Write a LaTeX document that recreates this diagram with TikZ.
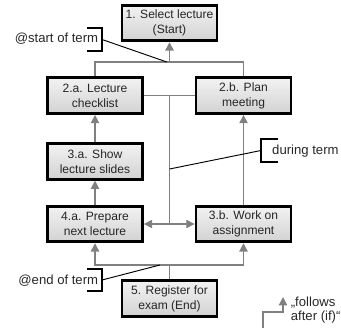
\documentclass[tikz,border=0pt]{standalone}
\usepackage{fontspec}
\setmainfont{Liberation Sans}
\usetikzlibrary{arrows.meta,calc}

\begin{document}
\begin{tikzpicture}[
    task/.style={draw=black, line width=2.4pt, top color=gray!10, bottom color=gray!35, align=center, minimum width=2.85cm, minimum height=1.07cm, inner sep=1pt, text=black!85, font=\fontsize{10.3}{13}\selectfont},
    flow/.style={gray, line width=1.1pt, >={Triangle[length=0.25cm,width=0.25cm]}},
    brk/.style={black, line width=2.2pt},
    pointer/.style={black, line width=0.8pt},
    note/.style={inner sep=0pt, align=left, text=black!85, font=\fontsize{11.2}{12.5}\selectfont},
]
\useasboundingbox (0,0) rectangle (10.23,9.84);

% Task boxes
\node[task] (select) at (5.085,9.15) {1. Select lecture\\(Start)};
\node[task] (check) at (2.85,6.97) {2.a. Lecture\\checklist};
\node[task] (plan) at (7.305,6.97) {2.b. Plan\\meeting};
\node[task] (slides) at (2.85,5.0) {3.a. Show\\lecture slides};
\node[task] (prepare) at (2.85,3.12) {4.a. Prepare\\next lecture};
\node[task] (work) at (7.305,3.12) {3.b. Work on\\assignment};
\node[task] (register) at (5.085,0.885) {5. Register for\\exam (End)};

% Junctions
\coordinate (topjoin) at (5.085,7.98);
\coordinate (midjoin) at (5.085,6.97);
\coordinate (lowjoin) at (5.085,3.12);
\coordinate (botjoin) at (5.085,1.89);

% Flow
\draw[flow] (check.north) |- (topjoin) -| (plan.north);
\draw[flow,->] (topjoin) -- (select.south);
\draw[flow] (check.east) -- (plan.west);
\draw[flow] (midjoin) -- (lowjoin);
\draw[flow,<->] (prepare.east) -- (work.west);
\draw[flow,->] (slides) -- (check);
\draw[flow,->] (prepare) -- (slides);
\draw[flow,->] (work) -- (plan);
\draw[flow] (register.north) -- (botjoin);
\draw[flow,->] (botjoin) -| (prepare.south);
\draw[flow,->] (botjoin) -| (work.south);

% @start of term
\node[note, anchor=east] (startterm) at (2.95,8.67) {@start of term};
\coordinate (startbr) at (3.06,8.655);
\draw[brk] ($(startbr)+(-0.45,0.345)$) -| ($(startbr)+(0,-0.345)$) -- ++(-0.45,0);
\draw[pointer] (startbr) -- ($(topjoin)+(-0.08,0)$);

% during term
\node[note, anchor=west] (duringterm) at (8.16,5.31) {during term};
\coordinate (duringbr) at (7.83,5.325);
\coordinate (duringpt) at (5.085,4.77);
\draw[brk] ($(duringbr)+(0.5,0.345)$) -| ($(duringbr)+(0,-0.345)$) -- ++(0.5,0);
\draw[pointer] (duringbr) -- (duringpt);

% @end of term
\node[note, anchor=east] (endterm) at (2.95,1.41) {@end of term};
\coordinate (endbr) at (3.06,1.44);
\coordinate (endpt) at (4.8,1.89);
\draw[brk] ($(endbr)+(-0.45,0.33)$) -| ($(endbr)+(0,-0.33)$) -- ++(-0.45,0);
\draw[pointer] (endbr) -- (endpt);

% legend
\coordinate (lgfoot) at (7.89,0);
\coordinate (lgbend) at (8.49,0.48);
\coordinate (lgtip) at (8.49,0.93);
\draw[flow,->] (lgfoot) |- (lgbend) -- (lgtip);
\node[note, anchor=east] (legend) at (10.22,0.54) {„follows\\after (if)“};

\end{tikzpicture}
\end{document}
